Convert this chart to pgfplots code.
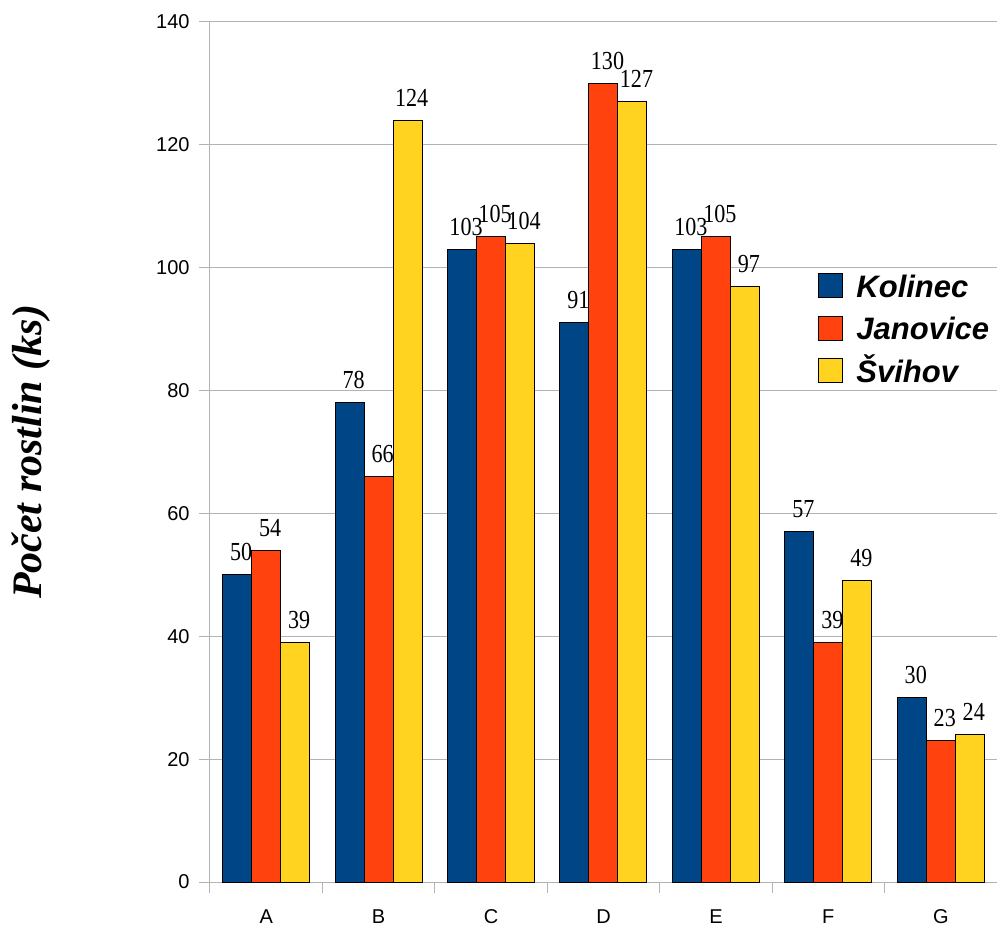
\documentclass[border=0pt]{standalone}
\usepackage{pgfplots}
\pgfplotsset{compat=1.18}
\usepackage{fontspec}
\setmainfont{Liberation Sans}
\newfontfamily\seriffont{Liberation Serif}
\definecolor{cK}{HTML}{004586}
\definecolor{cJ}{HTML}{FF420E}
\definecolor{cS}{HTML}{FFD320}
\definecolor{gridgray}{HTML}{B3B3B3}
\begin{document}
\begin{tikzpicture}
\useasboundingbox (-105pt,-21.5pt) rectangle (395pt,441pt);
\begin{axis}[
  at={(0,0)}, anchor=south west,
  scale only axis, width=393.5pt, height=430pt,
  xmin=-0.5, xmax=6.5, ymin=0, ymax=140,
  ybar=0pt, bar width=14.5pt,
  /pgf/number format/assume math mode=true,
  axis x line*=bottom, axis y line*=left,
  axis line style={gridgray, line width=0.5pt, -},
  ytick={0,20,...,140},
  ymajorgrids, major grid style={gridgray, line width=0.5pt},
  tick align=outside, major tick length=5.5pt,
  tick style={gridgray, line width=0.5pt},
  xtick={-0.5,0.5,...,5.5},
  xticklabels={A,B,C,D,E,F,G},
  xticklabel style={anchor=base, xshift=28.107pt, yshift=-15pt, inner sep=0pt},
  yticklabel style={anchor=east, inner sep=0pt, xshift=-4.5pt},
  ticklabel style={font=\fontsize{10pt}{12pt}\selectfont},
  nodes near coords={\scalebox{0.85}[1]{\pgfmathprintnumber{\pgfplotspointmeta}}},
  nodes near coords style={font=\seriffont\fontsize{13pt}{15pt}\selectfont, anchor=base, yshift=7pt, inner sep=0pt, xshift=2pt, text=black},
  every axis y label/.style={at={(axis description cs:-0.21347,0.5)}, rotate=90, anchor=base, font=\seriffont\bfseries\itshape\fontsize{21pt}{25pt}\selectfont},
  ylabel={Počet rostlin (ks)},
  legend image code/.code={\draw[#1, draw=black, line width=0.5pt] (0pt,-6pt) rectangle (12pt,6pt);},
  legend style={at={(rel axis cs:0.7726,0.7081)}, anchor=north west, draw=none, fill=none, inner sep=0pt,
    font=\bfseries\itshape\fontsize{15.5pt}{18pt}\selectfont, row sep=8.75pt, column sep=6.5pt,
    nodes={inner sep=0pt, text height=11.1pt, text depth=0pt}},
  legend cell align=left,
]
\addplot[fill=cK, draw=black, line width=0.5pt] coordinates {(0,50) (1,78) (2,103) (3,91) (4,103) (5,57) (6,30)};
\addplot[fill=cJ, draw=black, line width=0.5pt] coordinates {(0,54) (1,66) (2,105) (3,130) (4,105) (5,39) (6,23)};
\addplot[fill=cS, draw=black, line width=0.5pt] coordinates {(0,39) (1,124) (2,104) (3,127) (4,97) (5,49) (6,24)};
\legend{Kolinec, Janovice, Švihov}
\end{axis}
\end{tikzpicture}
\end{document}
